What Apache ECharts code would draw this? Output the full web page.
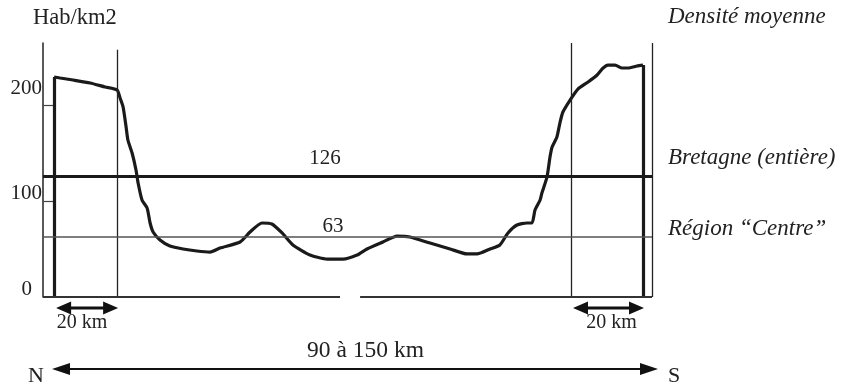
<!DOCTYPE html>
<html>
<head>
<meta charset="utf-8">
<script src="https://cdn.jsdelivr.net/npm/echarts@6/dist/echarts.min.js"></script>
<style>html,body{margin:0;padding:0;background:#fff;}#c{width:841px;height:389px;}</style>
</head>
<body>
<div id="c"></div>
<script>
// ---- data (distance along the N-S transect in km, density in Hab/km2) ----
const distanceKm = [3.7,5.7,10,15.7,20.7,24.7,25.7,26.7,27.7,28.3,29.7,31,31.7,33,34.7,35.7,36.7,39,42.3,46.7,51.3,55.7,59,65.7,69,73,76.3,79.7,83.3,89,94.7,100,104.7,108,113.3,118,122.3,129,135.7,141.3,144.7,149,152.3,155,158,161.3,163,164,165.7,166.3,168,169,169.7,171.3,172.3,173.3,175.7,178.3,181.7,184.7,186.7,188.3,190.7,193,195,198,200];
const density    = [229.5,228.5,226.4,223.3,219.1,216,207.6,198.2,177.4,163.8,150.2,132.5,118.9,101.2,92.9,77.2,67.8,59.5,53.2,50.1,48,46.9,51.1,57.4,67.8,77.2,76.2,66.8,54.3,43.8,39.6,39.6,43.8,50.1,57.4,63.6,62.6,56.3,50.1,44.9,44.9,50.1,54.3,66.8,75.1,77.2,77.2,90.8,101.2,108.5,125.2,146.1,156.5,166.9,181.5,193,205.5,217,224.3,231.6,238.9,242,242,238.9,238.9,241,242];
const yTickValues = [0, 100, 200];
const refValues = [126, 63];
const refNames = ['Bretagne (entière)', 'Région “Centre”'];
const zoneLinesKm = [24.7, 176];      // limits of the 20 km coastal zones
const axisMaxKm = 203;
const densityMax = 265;
const baselineGapKm = [99, 105.7];
const zoneLabel = '20 km';
const spanLabel = '90 à 150 km';
const yTitle = 'Hab/km2';
const rightTitle = 'Densité moyenne';

const chart = echarts.init(document.getElementById('c'), null, {renderer: 'canvas'});
const serif = 'Liberation Serif';
const ink = '#1a1a1a';
const italic = 'italic 23px "' + serif + '"';

const curve = distanceKm.map((x, i) => [x, density[i]]);
const x0 = distanceKm[0], xN = distanceKm[distanceKm.length - 1];
const seg = (a, b, style) => [{coord: a, lineStyle: Object.assign({type: 'solid'}, style)}, {coord: b}];

const markData = [
  seg([x0, 0], [x0, density[0]], {width: 3.2, color: ink}),
  seg([xN, 0], [xN, density[density.length - 1]], {width: 3.2, color: ink}),
  seg([zoneLinesKm[0], 0], [zoneLinesKm[0], densityMax - 7], {width: 1.3, color: '#222'}),
  seg([zoneLinesKm[1], 0], [zoneLinesKm[1], densityMax], {width: 1.3, color: '#222'}),
  seg([axisMaxKm, 0], [axisMaxKm, densityMax], {width: 1.3, color: '#222'}),
  seg([0, refValues[0]], [axisMaxKm, refValues[0]], {width: 3, color: ink}),
  seg([0, refValues[1]], [axisMaxKm, refValues[1]], {width: 1.6, color: '#555'}),
  seg([0, 0], [baselineGapKm[0], 0], {width: 2, color: '#333'}),
  seg([baselineGapKm[1], 0], [axisMaxKm, 0], {width: 2, color: '#333'})
];

chart.setOption({
  animation: false,
  backgroundColor: '#fff',
  grid: {left: 43, right: 189, top: 43, bottom: 92},
  xAxis: {type: 'value', min: 0, max: axisMaxKm, show: true,
    axisLine: {show: false}, axisTick: {show: false}, axisLabel: {show: false}, splitLine: {show: false}},
  yAxis: {type: 'value', min: 0, max: densityMax, interval: 100,
    axisLine: {show: true, lineStyle: {color: '#222', width: 1.5}},
    axisTick: {show: true, inside: true, length: 12, customValues: yTickValues.filter(v => v > 0), lineStyle: {color: '#444', width: 1.2}},
    axisLabel: {customValues: yTickValues, margin: 1, verticalAlign: 'middle',
      formatter: v => v === 0 ? '{z|0}' : (v === 200 ? '{h|' + v + '}' : '{n|' + v + '}'),
      rich: {
        z: {fontFamily: serif, fontSize: 21, color: '#222', padding: [0, 10, 16, 0]},
        n: {fontFamily: serif, fontSize: 21, color: '#222', padding: [0, 0, 16, 0]},
        h: {fontFamily: serif, fontSize: 21, color: '#222', padding: [0, 0, 34, 0]}
      }},
    splitLine: {show: false}},
  series: [{
    type: 'line', data: curve, symbol: 'none', smooth: 0.2, clip: false,
    lineStyle: {color: ink, width: 3.2},
    markLine: {silent: true, symbol: ['none', 'none'], label: {show: false}, data: markData}
  }]
});

const P = (x, y) => chart.convertToPixel({gridIndex: 0}, [x, y]);
const base = P(0, 0)[1];
const gLeft = P(0, 0)[0], gRight = P(axisMaxKm, 0)[0];
const g = [];
const txt = (x, y, s, opt) => g.push({type: 'text', x: x, y: y, silent: true,
  style: Object.assign({text: s, fill: '#222', font: '21px "' + serif + '"', textAlign: 'center', textVerticalAlign: 'middle'}, opt || {})});
const head = (tipX, y, dir, len, half) => g.push({type: 'polygon', silent: true,
  shape: {points: [[tipX, y], [tipX - dir * len, y - half], [tipX - dir * len, y + half]]}, style: {fill: '#111'}});
const dbl = (a, b, y, len, half, w) => {
  g.push({type: 'line', silent: true, shape: {x1: a + len - 2, y1: y, x2: b - len + 2, y2: y}, style: {stroke: '#111', lineWidth: w}});
  head(a, y, -1, len, half); head(b, y, 1, len, half);
};

// header texts
txt(33, 18, yTitle, {textAlign: 'left', font: '22.5px "' + serif + '"'});
txt(668, 17, rightTitle, {textAlign: 'left', font: italic});

// reference line labels
const refLabelKm = [94, 96.7];
refValues.forEach((v, i) => {
  const p = P(refLabelKm[i], v);
  txt(p[0], p[1] - 18 + (i ? 8 : 0), String(v));
  txt(gRight + 16, p[1] - (i ? 8 : 18), refNames[i], {textAlign: 'left', font: italic});
});

// 20 km arrows
const zl = [[x0, zoneLinesKm[0], -5], [zoneLinesKm[1], xN, 3]];
zl.forEach(([a, b, dx]) => {
  const pa = P(a, 0)[0] + 2, pb = P(b, 0)[0] + 1;
  dbl(pa, pb, base + 11, 15, 6.5, 3);
  txt((pa + pb) / 2 + dx, base + 26, zoneLabel, {font: '20px "' + serif + '"'});
});

// long N-S arrow
const ay = base + 72;
dbl(gLeft + 9, gRight + 6, ay, 18, 6, 2);
txt(36, ay + 7, 'N', {font: '22px "' + serif + '"'});
txt(674, ay + 7, 'S', {font: '22px "' + serif + '"'});
txt((gLeft + gRight) / 2 + 18, base + 54, spanLabel, {font: '23.5px "' + serif + '"'});

chart.setOption({graphic: {elements: g}});
</script>
</body>
</html>
